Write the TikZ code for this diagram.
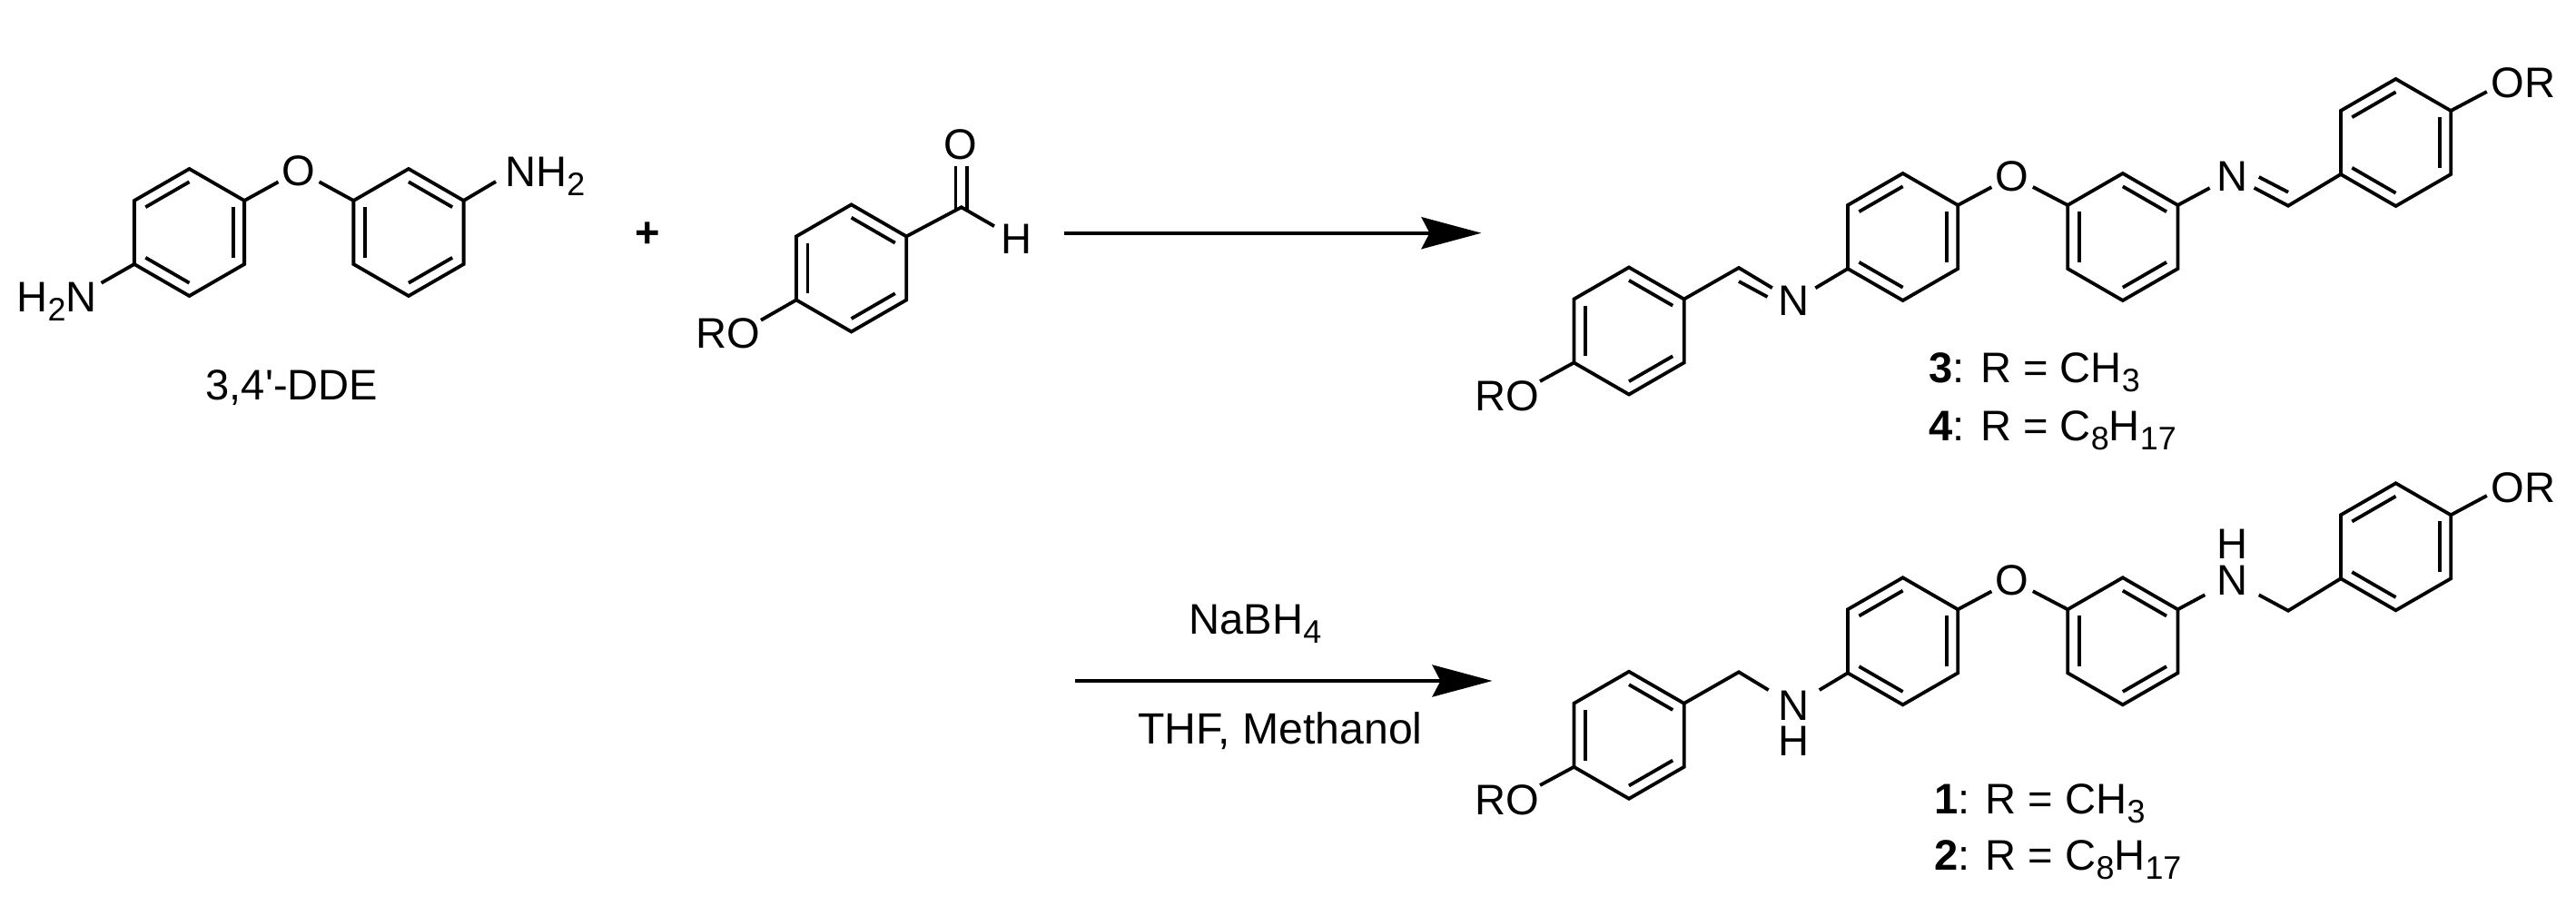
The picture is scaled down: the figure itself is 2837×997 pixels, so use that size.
\documentclass[tikz,border=0pt]{standalone}
\usepackage{fontspec}
\setmainfont{Liberation Sans}
\usetikzlibrary{arrows.meta,calc}
\newcommand{\chemsub}[1]{\raisebox{-0.1cm}{\fontsize{10.2}{12}\selectfont #1}}
\newcommand{\benzene}[4]{
    \coordinate (#1) at (#2,#3);
    \foreach \i in {1,...,6}
    \coordinate (#1\i) at ($(#1)+({\i*60-150}:70)$);
    \draw[bond] (#11) -- (#12) -- (#13) -- (#14) -- (#15) -- (#16) -- cycle;
    \foreach \i/\j in {#4}
    \draw[bond] ($(#1)!0.795!(#1\i)$) -- ($(#1)!0.795!(#1\j)$);
}
\tikzset{
    bond/.style={line width=0.038cm},
    rxn/.style={line width=0.042cm, -{Stealth[length=0.66cm, width=0.35cm, inset=0.09cm]}},
    chemtext/.style={inner sep=0, font=\fontsize{13.4}{16}\selectfont},
    atom/.style={chemtext, shape=circle, minimum size=0.54cm, anchor=center},
    amine/.style={chemtext, inner xsep=0.12cm, anchor=center},
}

\begin{document}
\begin{tikzpicture}[x=0.01cm, y=-0.01cm]
        \useasboundingbox (0,0) rectangle (2837,997);

        \benzene{pa}{208.5}{256}{6/1,2/3,4/5}
        \benzene{pb}{450}{256}{1/2,3/4,5/6}
        \node[atom, minimum size=0.5cm] (po) at (329,188) {O};
        \draw[bond] (pa2) -- (po);
        \draw[bond] (po) -- (pb6);
        \node[chemtext, anchor=base west] (nhr) at (555.6,205.7) {NH\chemsub{2}};
        \node[chemtext, anchor=base west] (nhl) at (18,343) {H\chemsub{2}N};
        \coordinate (nhre) at (546,200);
        \coordinate (nhle) at (111.6,311.7);
        \draw[bond] (pb2) -- (nhre);
        \draw[bond] (pa5) -- (nhle);
        \node[chemtext, anchor=base] (dde) at (321.5,440) {3,4\textquotesingle-DDE};

        \node[chemtext, font=\fontsize{13.4}{16}\selectfont\bfseries] (plus) at (713,259) {+};

        \benzene{ca}{937.6}{295.4}{1/2,3/4,5/6}
        \coordinate (cc) at (1058.8,228.3);
        \coordinate (ccl) at (1052.4,232);
        \coordinate (ccr) at (1064.8,232);
        \coordinate (col) at (1052.4,182.7);
        \coordinate (cor) at (1064.8,182.7);
        \node[atom] (co) at (1058.3,159) {O};
        \node[atom] (ch) at (1119,263) {H};
        \node[chemtext, anchor=base west] (cro) at (766,383) {RO};
        \coordinate (croe) at (838,352.7);
        \draw[bond] (ca2) -- (cc) -- (ch);
        \draw[bond] (ccl) -- (col);
        \draw[bond] (ccr) -- (cor);
        \draw[bond] (ca5) -- (croe);

        \coordinate (ars) at (1172,256.7);
        \coordinate (are) at (1631.5,256.7);
        \draw[rxn] (ars) -- (are);

        \benzene{ia}{1794}{364.5}{1/2,3/4,5/6}
        \benzene{ib}{2095.6}{261}{6/1,2/3,4/5}
        \benzene{ic}{2337.8}{261}{1/2,3/4,5/6}
        \benzene{id}{2638.5}{157}{6/1,2/3,4/5}
        \node[atom, minimum size=0.5cm] (io) at (2216,194) {O};
        \draw[bond] (ib2) -- (io);
        \draw[bond] (io) -- (ic6);
        \node[atom] (inl) at (1975.5,331.5) {N};
        \node[atom] (inr) at (2458,194) {N};
        \coordinate (icl) at (1915,295);
        \coordinate (icr) at (2520,226.7);
        \coordinate (icli) at (1915,310);
        \coordinate (icln) at (1946.5,327);
        \coordinate (icri) at (2520,211.7);
        \coordinate (icrn) at (2487.8,195);
        \draw[bond] (ia2) -- (icl) -- (inl);
        \draw[bond] (icli) -- (icln);
        \draw[bond] (inl) -- (ib5);
        \draw[bond] (ic2) -- (inr);
        \draw[bond] (inr) -- (icr) -- (id5);
        \draw[bond] (icri) -- (icrn);
        \node[chemtext, anchor=base west] (iro) at (1624,452) {RO};
        \node[chemtext, anchor=base west] (ior) at (2742.8,108) {OR};
        \coordinate (iroe) at (1696,420);
        \coordinate (iore) at (2738.8,101);
        \draw[bond] (ia5) -- (iroe);
        \draw[bond] (id2) -- (iore);
        \node[chemtext, anchor=base west] (lthree) at (2123.7,421.7) {\textbf{3}: R = CH\chemsub{3}};
        \node[chemtext, anchor=base west] (lfour) at (2123.7,485) {\textbf{4}: R = C\chemsub{8}H\chemsub{17}};

        \coordinate (brs) at (1183.7,750);
        \coordinate (bre) at (1643.5,750);
        \draw[rxn] (brs) -- (bre);
        \node[chemtext, anchor=base west] (nab) at (1309,698.3) {NaBH\chemsub{4}};
        \node[chemtext, anchor=base west, font=\fontsize{13.7}{16}\selectfont] (thf) at (1252.6,819) {THF, Methanol};

        \benzene{aa}{1794}{809.8}{1/2,3/4,5/6}
        \benzene{ab}{2095.6}{706.3}{6/1,2/3,4/5}
        \benzene{ac}{2337.8}{706.3}{1/2,3/4,5/6}
        \benzene{ad}{2638.5}{602.3}{6/1,2/3,4/5}
        \node[atom, minimum size=0.5cm] (ao) at (2216,639.3) {O};
        \draw[bond] (ab2) -- (ao);
        \draw[bond] (ao) -- (ac6);
        \node[amine] (anl) at (1975.5,777) {N};
        \node[chemtext] (ahl) at (1975.5,816) {H};
        \node[amine] (anr) at (2458,639.3) {N};
        \node[chemtext] (ahr) at (2458,599) {H};
        \coordinate (acl) at (1915,740.3);
        \coordinate (acr) at (2520,672.7);
        \draw[bond] (aa2) -- (acl) -- (anl);
        \draw[bond] (anl) -- (ab5);
        \draw[bond] (ac2) -- (anr);
        \draw[bond] (anr) -- (acr) -- (ad5);
        \node[chemtext, anchor=base west] (aro) at (1624,897) {RO};
        \node[chemtext, anchor=base west] (aor) at (2742.8,553) {OR};
        \coordinate (aroe) at (1696,865);
        \coordinate (aore) at (2738.8,546);
        \draw[bond] (aa5) -- (aroe);
        \draw[bond] (ad2) -- (aore);
        \node[chemtext, anchor=base west] (lone) at (2129.3,896) {\textbf{1}: R = CH\chemsub{3}};
        \node[chemtext, anchor=base west] (ltwo) at (2129.3,958) {\textbf{2}: R = C\chemsub{8}H\chemsub{17}};

    \end{tikzpicture}
\end{document}
